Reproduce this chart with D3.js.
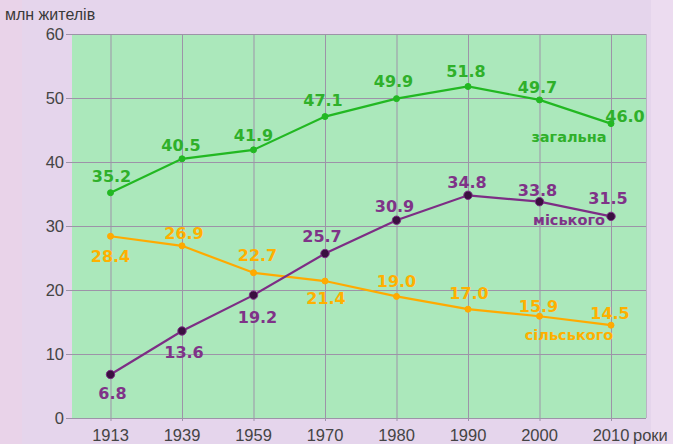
<!DOCTYPE html>
<html>
<head>
<meta charset="utf-8">
<script src="https://cdn.jsdelivr.net/npm/d3@7"></script>
<style>
  body { margin: 0; background: #e5d5ec; }
  svg { display: block; font-family: "Liberation Sans", Arial, sans-serif; }
</style>
</head>
<body>
<svg id="chart" width="673" height="444"></svg>
<script>
// роки
var years = ["1913", "1939", "1959", "1970", "1980", "1990", "2000", "2010"];

// млн жителів
var total = [35.2, 40.5, 41.9, 47.1, 49.9, 51.8, 49.7, 46.0];
var urban = [6.8, 13.6, 19.2, 25.7, 30.9, 34.8, 33.8, 31.5];
var rural = [28.4, 26.9, 22.7, 21.4, 19.0, 17.0, 15.9, 14.5];

var yTicks = [0, 10, 20, 30, 40, 50, 60];

// label offsets (dx, dy) from each point
var totalOff = [[1, -16], [-1, -14], [0, -15], [-2, -16], [-3, -17], [-2, -15], [-2, -13], [14, -7]];
var urbanOff = [[2, 19], [2, 21], [4, 22], [-3, -17], [-2, -14], [-1, -13], [-2, -11], [-3, -18]];
var ruralOff = [[0, 20], [2, -13], [4, -17], [1, 17], [0, -15], [1, -16], [-1, -10], [-1, -12]];

var plot = { left: 72, right: 646, top: 34, bottom: 418 };

var svg = d3.select("#chart");

// page strips
svg.append("rect")
    .attr("x", 0).attr("y", 0).attr("width", 22).attr("height", 444)
    .attr("fill", "#e9d3e9");
svg.append("rect")
    .attr("x", 651).attr("y", 0).attr("width", 22).attr("height", 444)
    .attr("fill", "#ecdcf0");

var x = d3.scalePoint()
    .domain(years)
    .range([110.5, 611]);

var y = d3.scaleLinear()
    .domain([0, 60])
    .range([plot.bottom, plot.top]);

svg.append("rect")
    .attr("x", plot.left).attr("y", plot.top)
    .attr("width", plot.right - plot.left).attr("height", plot.bottom - plot.top)
    .attr("fill", "#abe8bb");

var grid = svg.append("g").attr("stroke", "#9d93a8").attr("stroke-width", 1);

grid.selectAll(".hg").data(yTicks).enter().append("line")
    .attr("x1", plot.left - 6).attr("x2", plot.right)
    .attr("y1", function(d) { return y(d) + 0.5; })
    .attr("y2", function(d) { return y(d) + 0.5; });

grid.selectAll(".vg").data(years).enter().append("line")
    .attr("x1", function(d) { return x(d) + 0.5; })
    .attr("x2", function(d) { return x(d) + 0.5; })
    .attr("y1", plot.top).attr("y2", plot.bottom + 3);

grid.append("line")
    .attr("x1", plot.right + 0.5).attr("x2", plot.right + 0.5)
    .attr("y1", plot.top).attr("y2", plot.bottom)
    .attr("stroke", "#b9b3c4");

// axis labels
svg.append("g").selectAll("text").data(yTicks).enter().append("text")
    .attr("x", 64)
    .attr("y", function(d) { return y(d) + 6; })
    .attr("text-anchor", "end")
    .attr("font-size", 16.5)
    .attr("fill", "#444")
    .text(function(d) { return d; });

svg.append("g").selectAll("text").data(years).enter().append("text")
    .attr("x", function(d) { return x(d); })
    .attr("y", 441)
    .attr("text-anchor", "middle")
    .attr("font-size", 16.5)
    .attr("fill", "#444")
    .text(function(d) { return d; });

svg.append("text")
    .attr("x", 5).attr("y", 20)
    .attr("font-size", 16)
    .attr("fill", "#3a3a3a")
    .text("млн жителів");

svg.append("text")
    .attr("x", 633).attr("y", 441)
    .attr("font-size", 16.5)
    .attr("fill", "#444")
    .text("роки");

var line = d3.line()
    .x(function(d, i) { return x(years[i]); })
    .y(function(d) { return y(d); });

function drawSeries(values, offs, color, labelColor, dotFill, r, name, namePos) {
    var g = svg.append("g");
    g.append("path")
        .attr("d", line(values))
        .attr("fill", "none")
        .attr("stroke", color)
        .attr("stroke-width", 2.2);
    g.selectAll("circle").data(values).enter().append("circle")
        .attr("cx", function(d, i) { return x(years[i]); })
        .attr("cy", function(d) { return y(d); })
        .attr("r", r)
        .attr("fill", dotFill)
        .attr("stroke", color)
        .attr("stroke-width", 1);
    g.selectAll("text.v").data(values).enter().append("text")
        .attr("x", function(d, i) { return x(years[i]) + offs[i][0]; })
        .attr("y", function(d, i) { return y(d) + offs[i][1]; })
        .attr("text-anchor", "middle")
        .attr("dy", "0.36em")
        .attr("font-family", "'DejaVu Sans', sans-serif")
        .attr("font-size", 16)
        .attr("font-weight", "bold")
        .attr("fill", labelColor)
        .text(function(d) { return d.toFixed(1); });
    g.append("text")
        .attr("x", namePos[0]).attr("y", namePos[1])
        .attr("text-anchor", "middle")
        .attr("dy", "0.36em")
        .attr("font-family", "'DejaVu Sans', sans-serif")
        .attr("font-size", 14.5)
        .attr("font-weight", "bold")
        .attr("fill", labelColor)
        .text(name);
}

drawSeries(rural, ruralOff, "#ffaa00", "#ffb000", "#ffaa00", 3, "сільського", [569, 335]);
drawSeries(total, totalOff, "#22b822", "#2fb02a", "#22b822", 3, "загальна", [569, 137]);
drawSeries(urban, urbanOff, "#7d2d85", "#7f3388", "#3a1040", 4.2, "міського", [569, 220]);
</script>
</body>
</html>
